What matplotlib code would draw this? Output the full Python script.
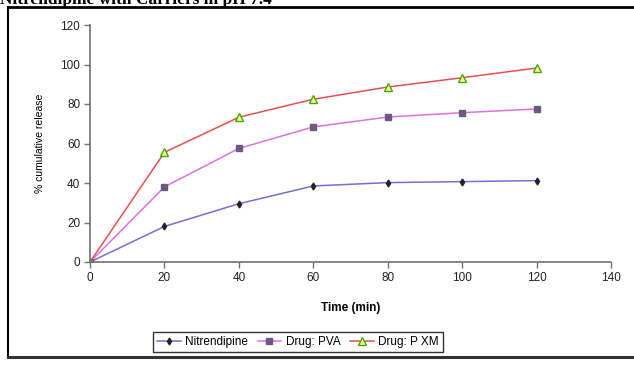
import matplotlib
matplotlib.use("Agg")
import matplotlib.pyplot as plt
from matplotlib.lines import Line2D

plt.rcParams['font.family'] = ['Liberation Sans', 'DejaVu Sans']

time_min = [0, 20, 40, 60, 80, 100, 120]
nitrendipine = [0, 18, 29.5, 38.5, 40.2, 40.7, 41.2]
drug_pva = [0, 38, 57.5, 68.4, 73.4, 75.6, 77.5]
drug_pxm = [0, 55.5, 73.3, 82.4, 88.6, 93.3, 98.2]
x_ticks = [0, 20, 40, 60, 80, 100, 120, 140]
y_ticks = [0, 20, 40, 60, 80, 100, 120]

W, H = 634, 369
fig = plt.figure(figsize=(W / 100, H / 100), dpi=100)
fig.patch.set_facecolor('white')

# page frame around the figure panel
fig.add_artist(Line2D([8 / W, 1.0], [1 - 7 / H, 1 - 7 / H], transform=fig.transFigure,
                      color='black', lw=2))
fig.add_artist(Line2D([8 / W, 8 / W], [1 - 7 / H, 1 - 357 / H], transform=fig.transFigure,
                      color='black', lw=1.5))
fig.add_artist(Line2D([8 / W, 1.0], [1 - 357 / H, 1 - 357 / H], transform=fig.transFigure,
                      color='#333333', lw=2.2))

# heading (runs off the top edge)
fig.text(0.0, 1 - 4 / H, "Nitrendipine with Carriers in pH 7.4", family='Liberation Serif',
         fontweight='bold', fontsize=12.5, ha='left', va='baseline')

ax = fig.add_axes([90 / W, 1 - 262 / H, (611 - 90) / W, (262 - 25) / H])
ax.plot(time_min, nitrendipine, color='#7070d8', lw=1.1, marker='d', ms=3.5,
        mfc='#222222', mec='#222222', label='Nitrendipine')
ax.plot(time_min, drug_pva, color='#e070e0', lw=1.1, marker='s', ms=4.5,
        mfc='#6a5a80', mec='#6a5a80', label='Drug: PVA')
ax.plot(time_min, drug_pxm, color='#e85050', lw=1.1, marker='^', ms=6,
        mfc='#f4f8a0', mec='#44aa00', mew=1.0, label='Drug: P XM')

ax.set_xlim(0, 140)
ax.set_ylim(0, 120)
ax.set_xticks(x_ticks)
ax.set_yticks(y_ticks)
for s in ['top', 'right']:
    ax.spines[s].set_visible(False)
for s in ['left', 'bottom']:
    ax.spines[s].set_color('#707070')
    ax.spines[s].set_linewidth(1.2)
ax.tick_params(axis='both', direction='out', length=4, width=1, color='#707070',
               labelsize=8.5, labelcolor='#222222', pad=3)
ax.set_xlabel('Time (min)', fontsize=8.5, fontweight='bold', labelpad=13)
ax.set_ylabel('% cumulative release', fontsize=7.5, labelpad=11)

leg = fig.legend(loc='center', bbox_to_anchor=(298 / W, 1 - 342 / H), ncol=3,
                 fontsize=8.5, frameon=True, fancybox=False, handlelength=2.0,
                 handletextpad=0.4, columnspacing=0.8, borderpad=0.3)
leg.get_frame().set_edgecolor('black')
leg.get_frame().set_linewidth(1.0)

fig.savefig('out.png', dpi=100, facecolor='white')
